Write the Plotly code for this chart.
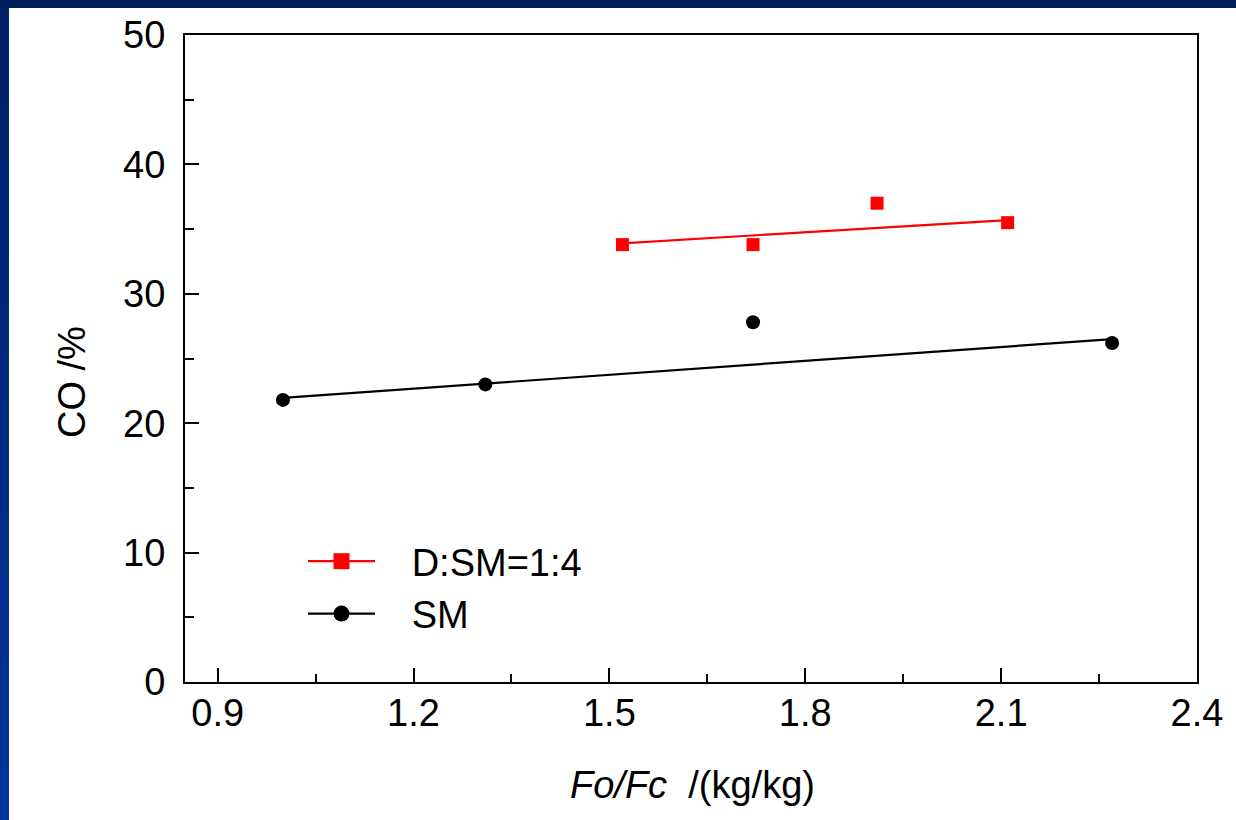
import plotly.graph_objects as go

# ---- data ----
dsm_x = [1.52, 1.72, 1.91, 2.11]
dsm_y = [33.8, 33.8, 37.0, 35.5]
dsm_fit_x = [1.52, 2.11]
dsm_fit_y = [33.9, 35.7]

sm_x = [1.00, 1.31, 1.72, 2.27]
sm_y = [21.8, 23.0, 27.8, 26.2]
sm_fit_x = [1.00, 2.27]
sm_fit_y = [21.95, 26.5]

names = ["D:SM=1:4", "SM"]
x_ticks = [0.9, 1.2, 1.5, 1.8, 2.1, 2.4]
y_ticks = [0, 10, 20, 30, 40, 50]

FONT = "Liberation Sans, Arial, sans-serif"
W, H = 1236, 820
L, R, T, B = 185, 39, 35, 138
PW, PH = W - L - R, H - T - B


def px(x):
    return (x - L) / PW


def py(y):
    return (H - B - y) / PH


fig = go.Figure()

# fitted lines
fig.add_trace(go.Scatter(x=dsm_fit_x, y=dsm_fit_y, mode="lines",
                         line=dict(color="#ff0000", width=2.2), showlegend=False))
fig.add_trace(go.Scatter(x=sm_fit_x, y=sm_fit_y, mode="lines",
                         line=dict(color="#000000", width=2.2), showlegend=False))
# points
fig.add_trace(go.Scatter(x=dsm_x, y=dsm_y, mode="markers",
                         marker=dict(symbol="square", size=13, color="#ff0000"),
                         showlegend=False))
fig.add_trace(go.Scatter(x=sm_x, y=sm_y, mode="markers",
                         marker=dict(symbol="circle", size=14, color="#000000"),
                         showlegend=False))
# legend entries
pad = "\u00a0\u00a0\u00a0"
fig.add_trace(go.Scatter(x=[None], y=[None], mode="lines+markers", name=pad + names[0],
                         line=dict(color="#ff0000", width=2.2),
                         marker=dict(symbol="square", size=20, color="#ff0000")))
fig.add_trace(go.Scatter(x=[None], y=[None], mode="lines+markers", name=pad + names[1],
                         line=dict(color="#000000", width=2.2),
                         marker=dict(symbol="circle", size=20, color="#000000")))

shapes = []
# left blue bar with vertical gradient
n = 16
top_c = (0x00, 0x21, 0x66)
bot_c = (0x00, 0x34, 0x9c)
for i in range(n):
    f = i / (n - 1)
    c = tuple(int(round(top_c[k] + (bot_c[k] - top_c[k]) * f)) for k in range(3))
    y0 = i * H / n
    y1 = (i + 1) * H / n + 1
    shapes.append(dict(type="rect", xref="paper", yref="paper",
                       x0=px(0), x1=px(9), y0=py(y0), y1=py(y1),
                       line=dict(width=0), fillcolor="rgb(%d,%d,%d)" % c, layer="above"))
# top bar
shapes.append(dict(type="rect", xref="paper", yref="paper",
                   x0=px(0), x1=px(W), y0=py(0), y1=py(8),
                   line=dict(width=0), fillcolor="#001f5c", layer="above"))

annotations = [
    dict(text="CO /%", xref="paper", yref="paper", x=px(72), y=py(382),
         textangle=-90, showarrow=False, font=dict(family=FONT, size=38, color="black"),
         xanchor="center", yanchor="middle"),
    dict(text="<i>Fo/Fc</i>\u00a0\u00a0/(kg/kg)", xref="paper", yref="paper",
         x=px(692), y=py(785), showarrow=False,
         font=dict(family=FONT, size=38, color="black"),
         xanchor="center", yanchor="middle"),
]

axis_common = dict(showline=True, linecolor="black", linewidth=2, mirror=True,
                   ticks="inside", tickwidth=2, tickcolor="black",
                   showgrid=False, zeroline=False,
                   tickfont=dict(family=FONT, size=38, color="black"))

fig.update_layout(
    width=W, height=H,
    margin=dict(l=L, r=R, t=T, b=B),
    paper_bgcolor="white", plot_bgcolor="white",
    font=dict(family=FONT, size=38, color="black"),
    xaxis=dict(range=[0.85, 2.4], tickvals=x_ticks,
               ticktext=[str(v) for v in x_ticks], ticklen=14,
               ticklabelstandoff=-4,
               minor=dict(ticks="inside", ticklen=8, tickwidth=2, tickcolor="black",
                          tick0=0.9, dtick=0.15),
               **axis_common),
    yaxis=dict(range=[0, 50], tickvals=y_ticks, ticklen=14,
               ticklabelstandoff=10,
               minor=dict(ticks="inside", ticklen=9, tickwidth=2, tickcolor="black",
                          tick0=0, dtick=5),
               **axis_common),
    legend=dict(x=px(303), y=py(530), xanchor="left", yanchor="top",
                bgcolor="rgba(0,0,0,0)", borderwidth=0, itemwidth=67,
                font=dict(family=FONT, size=38, color="black"),
                tracegroupgap=0),
    shapes=shapes,
    annotations=annotations,
    showlegend=True,
)

fig.write_html("out.html",
               config={"displayModeBar": False},
               post_script="document.body.style.margin='0';document.body.style.overflow='hidden';")
